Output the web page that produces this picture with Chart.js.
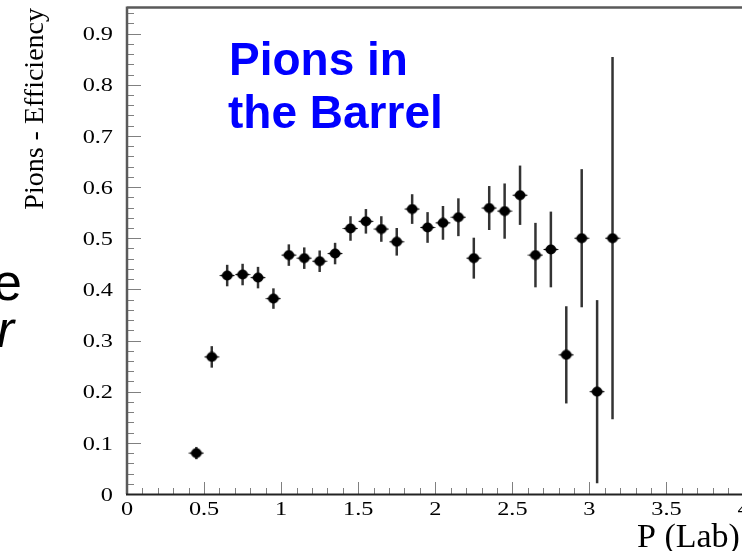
<!DOCTYPE html>
<html>
<head>
<meta charset="utf-8">
<script src="https://cdn.jsdelivr.net/npm/chart.js@4/dist/chart.umd.min.js"></script>
<style>
  html, body { margin: 0; padding: 0; background: #fff; }
  canvas { display: block; }
</style>
</head>
<body>
<canvas id="effChart" width="742" height="551"></canvas>
<script>
// --- values ---
const pLab = [0.45, 0.55, 0.65, 0.75, 0.85, 0.95, 1.05, 1.15, 1.25, 1.35,
              1.45, 1.55, 1.65, 1.75, 1.85, 1.95, 2.05, 2.15, 2.25, 2.35,
              2.45, 2.55, 2.65, 2.75, 2.85, 2.95, 3.05, 3.15];
const efficiency = [0.080, 0.268, 0.427, 0.429, 0.423, 0.382, 0.467, 0.461, 0.455, 0.470,
                    0.519, 0.533, 0.518, 0.493, 0.557, 0.521, 0.530, 0.541, 0.461, 0.559,
                    0.553, 0.584, 0.467, 0.478, 0.272, 0.500, 0.200, 0.500];
const effError = [0.012, 0.021, 0.021, 0.021, 0.021, 0.020, 0.021, 0.021, 0.021, 0.021,
                  0.024, 0.024, 0.025, 0.027, 0.029, 0.030, 0.033, 0.037, 0.040, 0.043,
                  0.054, 0.058, 0.063, 0.074, 0.095, 0.135, 0.179, 0.354];

const xTicks = [0, 0.5, 1, 1.5, 2, 2.5, 3, 3.5, 4];
const xTickLabels = ["0", "0.5", "1", "1.5", "2", "2.5", "3", "3.5", "4"];
const yTicks = [0, 0.1, 0.2, 0.3, 0.4, 0.5, 0.6, 0.7, 0.8, 0.9];
const yTickLabels = ["0", "0.1", "0.2", "0.3", "0.4", "0.5", "0.6", "0.7", "0.8", "0.9"];

// --- marker: filled black lens, like the ROOT plot ---
const marker = document.createElement("canvas");
marker.width = 16;
marker.height = 11;
const m = marker.getContext("2d");
m.fillStyle = "#000";
m.beginPath();
m.ellipse(8, 5.5, 5.2, 5, 0, 0, 2 * Math.PI);
m.fill();
m.beginPath();
m.moveTo(0, 5.5);
m.lineTo(8, 2.5);
m.lineTo(16, 5.5);
m.lineTo(8, 8.5);
m.closePath();
m.fill();

// ROOT tick labels look horizontally stretched
function wideText(ctx, str, px, py, align) {
  ctx.save();
  ctx.translate(px, py);
  ctx.scale(1.35, 1);
  ctx.textAlign = align;
  ctx.fillText(str, 0, 0);
  ctx.restore();
}

const rootFrame = {
  id: "rootFrame",
  beforeDatasetsDraw(chart) {
    const { ctx, scales: { x, y } } = chart;
    ctx.save();
    ctx.strokeStyle = "#333";
    ctx.lineWidth = 2.5;
    pLab.forEach((p, i) => {
      const px = x.getPixelForValue(p);
      ctx.beginPath();
      ctx.moveTo(px, y.getPixelForValue(Math.max(0, efficiency[i] - effError[i])));
      ctx.lineTo(px, y.getPixelForValue(efficiency[i] + effError[i]));
      ctx.stroke();
    });
    ctx.restore();
  },
  afterDraw(chart) {
    const { ctx, chartArea: a, scales: { x, y } } = chart;
    ctx.save();

    // tick marks (inside the frame)
    ctx.strokeStyle = "#808080";
    ctx.lineWidth = 1;
    for (let k = 0; k <= 47; k++) {
      const py = Math.round(y.getPixelForValue(k * 0.02)) + 0.5;
      const len = k % 5 === 0 ? 14 : 7;
      ctx.beginPath();
      ctx.moveTo(a.left, py);
      ctx.lineTo(a.left + len, py);
      ctx.stroke();
    }
    for (let k = 0; k <= 40; k++) {
      const px = Math.round(x.getPixelForValue(k * 0.1)) + 0.5;
      const len = k % 5 === 0 ? 12 : 6;
      ctx.beginPath();
      ctx.moveTo(px, a.bottom);
      ctx.lineTo(px, a.bottom - len);
      ctx.stroke();
    }

    // frame lines
    ctx.strokeStyle = "#5a5a5a";
    ctx.lineWidth = 2.5;
    ctx.beginPath();
    ctx.moveTo(a.left, a.top - 0.5);
    ctx.lineTo(a.right, a.top - 0.5);
    ctx.moveTo(a.left, a.top - 1.5);
    ctx.lineTo(a.left, a.bottom);
    ctx.stroke();
    ctx.strokeStyle = "#222";
    ctx.lineWidth = 2;
    ctx.beginPath();
    ctx.moveTo(a.left - 1, a.bottom + 0.5);
    ctx.lineTo(a.right, a.bottom + 0.5);
    ctx.stroke();

    // tick labels
    ctx.fillStyle = "#000";
    ctx.font = "18px 'Liberation Serif'";
    ctx.textBaseline = "middle";
    yTicks.forEach((v, i) => wideText(ctx, yTickLabels[i], a.left - 14, y.getPixelForValue(v) + 2, "right"));
    xTicks.forEach((v, i) => wideText(ctx, xTickLabels[i], x.getPixelForValue(v), a.bottom + 16, "center"));

    // axis titles
    ctx.textBaseline = "alphabetic";
    ctx.font = "34px 'Liberation Serif'";
    ctx.textAlign = "left";
    ctx.fillText("P (Lab)", 637, 547);

    ctx.save();
    ctx.font = "28px 'Liberation Serif'";
    ctx.translate(43, a.top);
    ctx.rotate(-Math.PI / 2);
    ctx.textAlign = "right";
    ctx.fillText("Pions - Efficiency", 0, 0);
    ctx.restore();

    // slide text
    ctx.fillStyle = "#0000ff";
    ctx.font = "bold 46px 'Liberation Sans'";
    ctx.textAlign = "left";
    ctx.fillText("Pions in", 229, 75);
    ctx.fillText("the Barrel", 228, 128);

    ctx.fillStyle = "#000";
    ctx.font = "52px 'Liberation Sans'";
    ctx.textAlign = "right";
    ctx.fillText("e", 22, 300);
    ctx.font = "italic 52px 'Liberation Sans'";
    ctx.fillText("r", 14, 347);

    ctx.restore();
  },
};

const ctxEff = document.getElementById("effChart");

new Chart(ctxEff, {
  type: "scatter",
  data: {
    datasets: [
      {
        label: "Pions - Efficiency",
        data: pLab.map((p, i) => ({ x: p, y: efficiency[i] })),
        pointStyle: marker,
        pointRadius: 8,
        showLine: false,
      },
    ],
  },
  options: {
    responsive: false,
    animation: false,
    events: [],
    layout: { autoPadding: false, padding: { left: 127, top: 8, right: 0, bottom: 57 } },
    plugins: { legend: { display: false }, tooltip: { enabled: false } },
    scales: {
      x: { type: "linear", min: 0, max: 3.99, display: false },
      y: { type: "linear", min: 0, max: 0.95, display: false },
    },
  },
  plugins: [rootFrame],
});
</script>
</body>
</html>
